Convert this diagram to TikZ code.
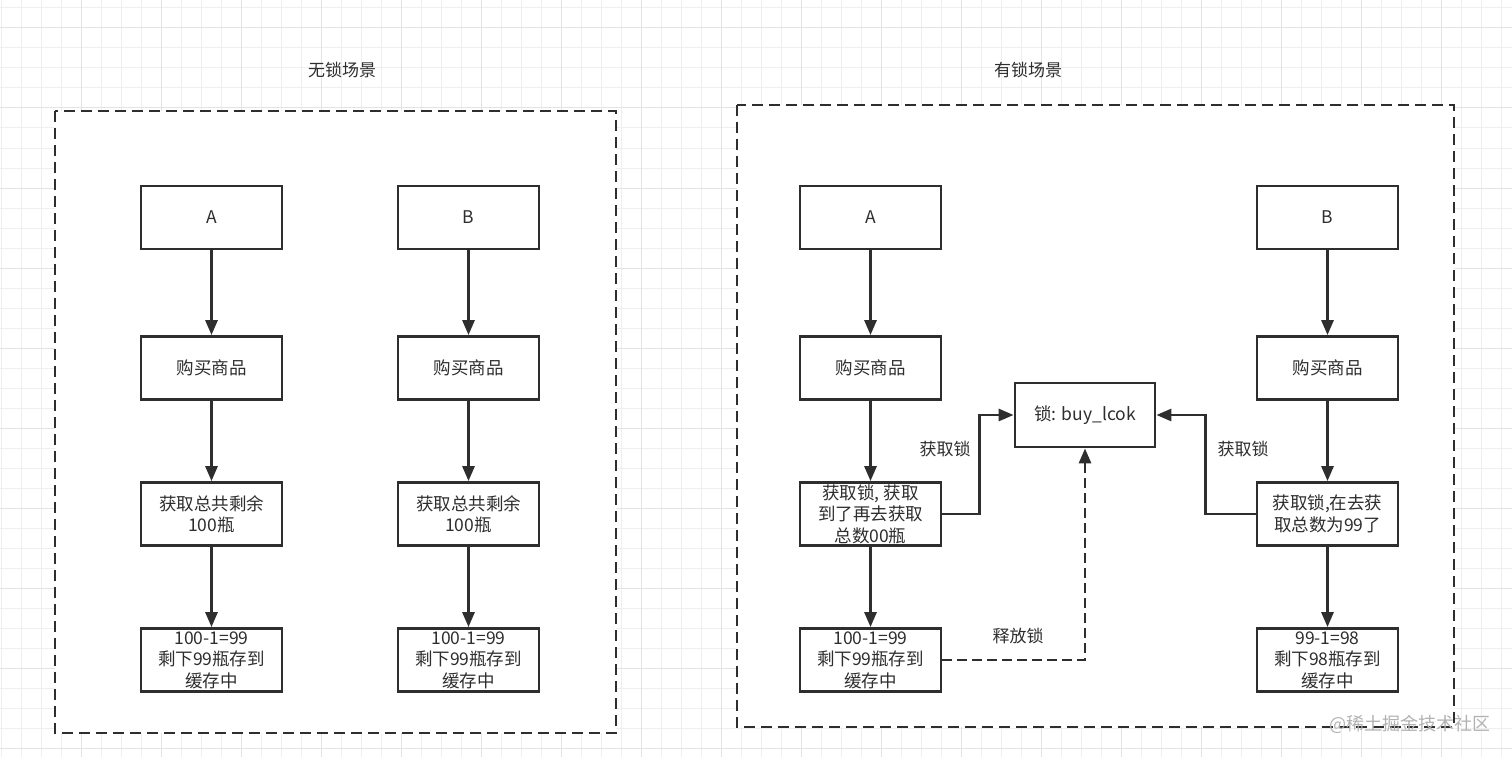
\documentclass[tikz,border=0pt]{standalone}
\usepackage{fontspec}
\newfontfamily\cjk{Noto Sans CJK SC}
\usepackage{tikz}
\usetikzlibrary{arrows.meta}

\definecolor{ink}{HTML}{2E2E2E}
\definecolor{gridminor}{HTML}{EFEFEF}
\definecolor{gridmajor}{HTML}{E3E3E3}

\tikzset{
  stepbox/.style={draw=ink, line width=2.8pt, fill=white, minimum width=141pt,
    minimum height=63pt, inner sep=0pt, align=center, text=ink,
    font=\cjk\fontsize{17.5}{21.5}\selectfont},
  arr/.style={draw=ink, line width=2.8pt, -{Triangle[length=15pt,width=12pt]}},
  tagtext/.style={text=ink, inner sep=0pt, font=\cjk\fontsize{17}{20}\selectfont},
  scenebox/.style={draw=ink, line width=2.8pt, fill=white, dash pattern=on 11pt off 6pt},
  dashlink/.style={dash pattern=on 10pt off 5pt},
}

\begin{document}
\begin{tikzpicture}[x=1pt,y=-1pt]
        \useasboundingbox (0,0) rectangle (1512,757);
        \pgfmathsetmacro{\ca}{211.5}
        \pgfmathsetmacro{\cb}{468.5}
        \pgfmathsetmacro{\cc}{870.5}
        \pgfmathsetmacro{\cd}{1327.5}
        \pgfmathsetmacro{\ra}{217.5}
        \pgfmathsetmacro{\rb}{368}
        \pgfmathsetmacro{\rc}{514}
        \pgfmathsetmacro{\rd}{660}
        % background grid
        \fill[white] (0,0) rectangle (1512,757);
        \foreach \x in {1,21,...,1501} \draw[gridminor, line width=1pt] (\x,0) -- (\x,757);
        \foreach \y in {8,28,...,748} \draw[gridminor, line width=1pt] (0,\y) -- (1512,\y);
        \foreach \x in {81,161,...,1441} \draw[gridmajor, line width=1pt] (\x,0) -- (\x,757);
        \foreach \y in {28,108,...,748} \draw[gridmajor, line width=1pt] (0,\y) -- (1512,\y);
        % the two scenes
        \draw[scenebox] (55,111) rectangle (616,733);
        \draw[scenebox] (737,105) rectangle (1454,727);
        \node[tagtext] (tfree) at (342,70) {无锁场景};
        \node[tagtext] (tlock) at (1028,70) {有锁场景};
        % without lock
        \node[stepbox] (la1) at (\ca,\ra) {A};
        \node[stepbox] (la2) at (\ca,\rb) {购买商品};
        \node[stepbox] (la3) at (\ca,\rc) {获取总共剩余\\100瓶};
        \node[stepbox] (la4) at (\ca,\rd) {100-1=99\\剩下99瓶存到\\缓存中};
        \node[stepbox] (lb1) at (\cb,\ra) {B};
        \node[stepbox] (lb2) at (\cb,\rb) {购买商品};
        \node[stepbox] (lb3) at (\cb,\rc) {获取总共剩余\\100瓶};
        \node[stepbox] (lb4) at (\cb,\rd) {100-1=99\\剩下99瓶存到\\缓存中};
        \draw[arr] (la1) -- (la2);
        \draw[arr] (la2) -- (la3);
        \draw[arr] (la3) -- (la4);
        \draw[arr] (lb1) -- (lb2);
        \draw[arr] (lb2) -- (lb3);
        \draw[arr] (lb3) -- (lb4);
        % with lock
        \node[stepbox] (ra1) at (\cc,\ra) {A};
        \node[stepbox] (ra2) at (\cc,\rb) {购买商品};
        \node[stepbox] (ra3) at (\cc,\rc) {获取锁, 获取\\到了再去获取\\总数00瓶};
        \node[stepbox] (ra4) at (\cc,\rd) {100-1=99\\剩下99瓶存到\\缓存中};
        \node[stepbox] (rb1) at (\cd,\ra) {B};
        \node[stepbox] (rb2) at (\cd,\rb) {购买商品};
        \node[stepbox] (rb3) at (\cd,\rc) {获取锁,在去获\\取总数为99了};
        \node[stepbox] (rb4) at (\cd,\rd) {99-1=98\\剩下98瓶存到\\缓存中};
        \node[stepbox, minimum width=140pt, minimum height=64pt] (lock) at (1085,415) {锁: buy\_lcok};
        \draw[arr] (ra1) -- (ra2);
        \draw[arr] (ra2) -- (ra3);
        \draw[arr] (ra3) -- (ra4);
        \draw[arr] (rb1) -- (rb2);
        \draw[arr] (rb2) -- (rb3);
        \draw[arr] (rb3) -- (rb4);
        \draw[arr] (ra3.east) -- ++(37,0) |- (lock.west);
        \draw[arr] (rb3.west) -- ++(-50,0) |- (lock.east);
        \draw[arr, dashlink] (ra4.east) -| (lock.south);
        \node[tagtext] (getA) at (945,449) {获取锁};
        \node[tagtext] (getB) at (1243,449) {获取锁};
        \node[tagtext] (free) at (1018,636) {释放锁};
        \node[text=black!30, inner sep=0pt, font=\cjk\fontsize{18}{20}\selectfont] (mark) at (1410,724) {@稀土掘金技术社区};
    \end{tikzpicture}
\end{document}
